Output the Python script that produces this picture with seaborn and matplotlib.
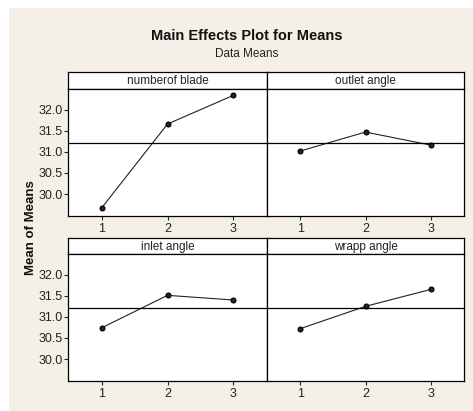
import numpy as np
import pandas as pd
import seaborn as sns
import matplotlib.pyplot as plt
from matplotlib.patches import Rectangle

#Values
factors = ["numberof blade", "outlet angle", "inlet angle", "wrapp angle"]
levels = [1, 2, 3]
blade_means = [29.67, 31.66, 32.34]
outlet_means = [31.02, 31.47, 31.16]
inlet_means = [30.74, 31.51, 31.40]
wrapp_means = [30.72, 31.25, 31.65]
grand_mean = 31.2
yticks = [30.0, 30.5, 31.0, 31.5, 32.0]

df = pd.DataFrame({
    "factor": np.repeat(factors, len(levels)),
    "level": levels * len(factors),
    "mean": blade_means + outlet_means + inlet_means + wrapp_means,
})

sns.set_style("white")
plt.rcParams['font.family'] = ['Liberation Sans', 'DejaVu Sans']

W, H = 473, 411
fig = plt.figure(figsize=(W / 100, H / 100), dpi=100, facecolor="white")
#cream background like the minitab window
fig.patches.append(Rectangle((9 / W, 0), 1, 1 - 8 / H, transform=fig.transFigure,
                             facecolor="#f4f0e7", edgecolor="none", zorder=-10))

def box(x0, x1, y0, y1):
    return [x0 / W, 1 - y1 / H, (x1 - x0) / W, (y1 - y0) / H]

cols = [(68, 267), (267, 464)]
rows = [(72, 89, 216), (238, 254, 381)]

for i, name in enumerate(factors):
    r, c = divmod(i, 2)
    x0, x1 = cols[c]
    s0, s1, p1 = rows[r]
    # strip with the factor name
    sax = fig.add_axes(box(x0, x1, s0, s1))
    sax.set_xticks([])
    sax.set_yticks([])
    sax.set_facecolor("white")
    sax.text(0.5, 0.45, name, ha="center", va="center", fontsize=8.5, color="#222222")
    for sp in sax.spines.values():
        sp.set_linewidth(0.9)
        sp.set_color("black")

    ax = fig.add_axes(box(x0, x1, s1, p1))
    ax.set_facecolor("white")
    sub = df[df.factor == name]
    sns.lineplot(data=sub, x="level", y="mean", ax=ax, color="#222222", lw=0.8,
                 marker="o", markersize=3.6, markeredgecolor="black")
    ax.axhline(grand_mean, color="black", lw=0.9)
    ax.set_xlim(0.49, 3.51)
    ax.set_ylim(29.48, 32.49)
    ax.set_xticks(levels)
    ax.set_xticklabels([str(v) for v in levels], fontsize=9, color="#222222")
    ax.set_yticks(yticks)
    if c == 0:
        ax.set_yticklabels([f"{v:.1f}" for v in yticks], fontsize=9, color="#222222")
        ax.tick_params(axis="y", length=3, width=0.8, direction="out", left=True, pad=1)
    else:
        ax.set_yticklabels([])
        ax.tick_params(axis="y", left=False)
    ax.tick_params(axis="x", length=3, width=0.8, direction="out", bottom=True, pad=2)
    ax.set_xlabel("")
    ax.set_ylabel("")
    for sp in ax.spines.values():
        sp.set_linewidth(0.9)
        sp.set_color("black")

fig.text(247 / W, 1 - 36 / H, "Main Effects Plot for Means", ha="center", va="center",
         fontsize=10.5, fontweight="bold", color="#111111")
fig.text(247 / W, 1 - 54 / H, "Data Means", ha="center", va="center",
         fontsize=8.5, color="#222222")
fig.text(31 / W, 1 - 228 / H, "Mean of Means", ha="center", va="center", rotation=90,
         fontsize=9.5, fontweight="bold", color="#111111")

plt.savefig("out.png", dpi=100, facecolor=fig.get_facecolor())
